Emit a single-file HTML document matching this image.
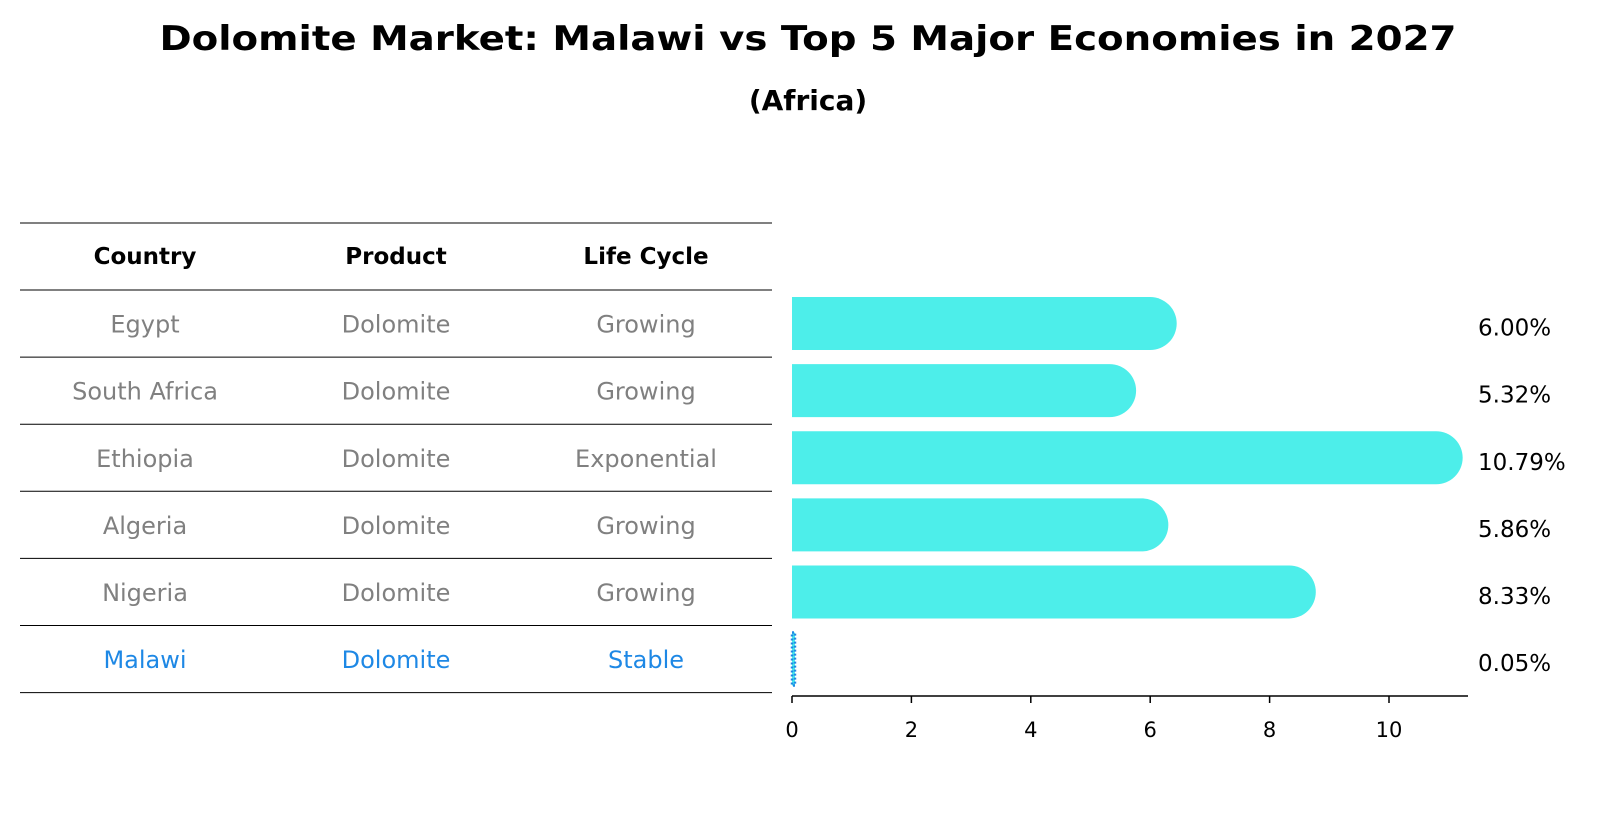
<!DOCTYPE html>
<html><head><meta charset="utf-8"><style>
html,body{margin:0;padding:0;background:#fff}
svg{display:block;font-family:"DejaVu Sans","Liberation Sans",sans-serif}
</style></head><body>
<svg id="chart" width="1604" height="823" viewBox="0 0 1604 823" xmlns="http://www.w3.org/2000/svg">
<text x="808" y="50" text-anchor="middle" font-size="34" font-weight="bold" textLength="1297" lengthAdjust="spacingAndGlyphs">Dolomite Market: Malawi vs Top 5 Major Economies in 2027</text>
<text x="808" y="110" text-anchor="middle" font-size="28" font-weight="bold">(Africa)</text>
<g id="table"></g>
<g id="bars"></g>
<g id="axis"></g>
</svg>
<script>
const countries = ["Egypt","South Africa","Ethiopia","Algeria","Nigeria","Malawi"];
const products = ["Dolomite","Dolomite","Dolomite","Dolomite","Dolomite","Dolomite"];
const lifeCycles = ["Growing","Growing","Exponential","Growing","Growing","Stable"];
const values = [6.00,5.32,10.79,5.86,8.33,0.05];
const valueLabels = ["6.00%","5.32%","10.79%","5.86%","8.33%","0.05%"];
const ticks = [0,2,4,6,8,10];

const NS="http://www.w3.org/2000/svg";
function mk(tag,attrs,parent){const e=document.createElementNS(NS,tag);for(const k in attrs)e.setAttribute(k,attrs[k]);parent.appendChild(e);return e;}
const x0=792, pxPerUnit=59.7;
const xs=v=>x0+v*pxPerUnit;
const rowTop=290, rowH=67.1;
const ys=i=>rowTop+rowH*(i+0.5);
const barH=53;

const table=document.getElementById('table');
const colX=[145,396,646];
const headers=["Country","Product","Life Cycle"];
let ln=mk('line',{x1:20,x2:772,y1:223,y2:223,stroke:'#000','stroke-width':1},table);


headers.forEach((h,j)=>{
  const t=mk('text',{x:colX[j],y:264,'text-anchor':'middle','font-size':23,'font-weight':'bold',fill:'#000'},table);
  t.textContent=h;
  
  
});
for(let i=0;i<=countries.length;i++){
  const l=mk('line',{x1:20,x2:772,y1:rowTop+rowH*i,y2:rowTop+rowH*i,stroke:'#000','stroke-width':1},table);
  
  
}
countries.forEach((c,i)=>{
  const col=(c==="Malawi")?'#1E88E5':'#808080';
  [c,products[i],lifeCycles[i]].forEach((txt,j)=>{
    const t=mk('text',{x:colX[j],y:ys(i)+9,'text-anchor':'middle','font-size':24,fill:col},table);
    t.textContent=txt;
    
    
  });
});

const bars=document.getElementById('bars');
values.forEach((v,i)=>{
  const y=ys(i)-barH/2, w=xs(v)-x0, r=barH/2;
  let b;
  if(countries[i]==="Malawi"){
    b=mk('rect',{x:x0,y:y,width:Math.max(w,2),height:barH,fill:'#4DEEEA',stroke:'#1E88E5','stroke-width':2.5,'stroke-dasharray':'2,2'},bars);
  } else {
    b=mk('path',{d:`M${x0},${y} H${x0+w} A${r},${r} 0 0 1 ${x0+w},${y+barH} H${x0} Z`,fill:'#4DEEEA'},bars);
  }
  
  
  const t=mk('text',{x:1478,y:ys(i)+12,'font-size':23,fill:'#000'},bars);
  t.textContent=valueLabels[i];
  
  
});

const axis=document.getElementById('axis');
const al=mk('line',{x1:x0,x2:1468,y1:696,y2:696,stroke:'#000','stroke-width':1.5},axis);


ticks.forEach(tv=>{
  const tl=mk('line',{x1:xs(tv),x2:xs(tv),y1:696,y2:703,stroke:'#000','stroke-width':1.5},axis);
  
  
  const t=mk('text',{x:xs(tv),y:737,'text-anchor':'middle','font-size':21,fill:'#000'},axis);
  t.textContent=String(tv);
  
  
});
</script>
</body></html>
